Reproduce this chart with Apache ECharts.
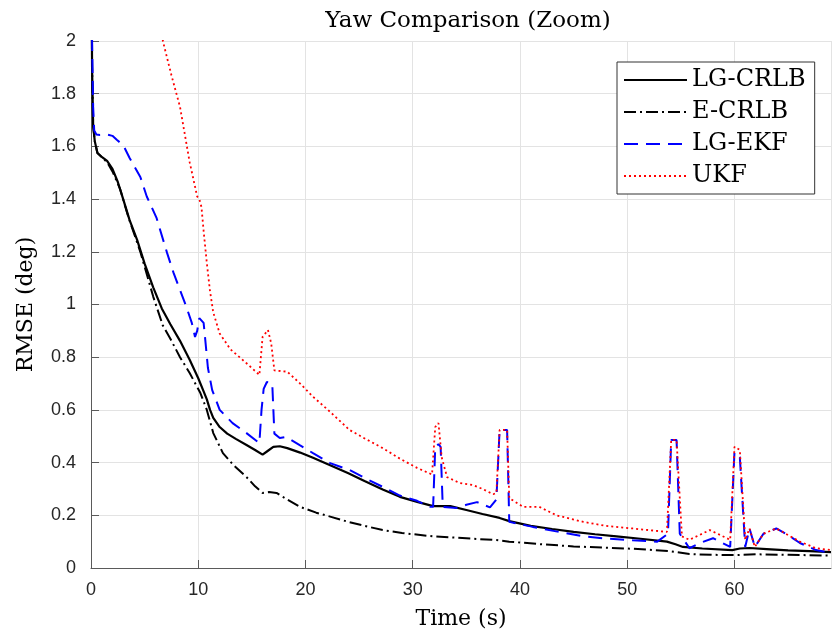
<!DOCTYPE html>
<html>
<head>
<meta charset="utf-8">
<script src="https://cdn.jsdelivr.net/npm/echarts@6/dist/echarts.min.js"></script>
<style>
html,body{margin:0;padding:0;background:#fff;}
#chart{width:832px;height:637px;}
</style>
</head>
<body>
<div id="chart"></div>
<script>
// ---- Data (time s, RMSE deg) ----
const seriesNames = ['LG-CRLB', 'E-CRLB', 'LG-EKF', 'UKF'];
const titleText = 'Yaw Comparison (Zoom)';
const xAxisName = 'Time (s)';
const yAxisName = 'RMSE (deg)';

const lgCrlb = [[0,2.6],[0.1,1.9],[0.2,1.68],[0.35,1.62],[0.6,1.575],[1.0,1.56],[1.5,1.545],[2.0,1.515],[2.5,1.465],[3.0,1.40],[3.6,1.32],[4.3,1.245],[5.0,1.155],[5.8,1.065],[6.6,0.985],[7.4,0.925],[8.3,0.862],[9.2,0.79],[10.0,0.72],[10.5,0.67],[10.8,0.64],[11.1,0.6],[11.4,0.57],[12.0,0.535],[12.7,0.51],[13.5,0.49],[14.5,0.467],[15.3,0.448],[16.0,0.43],[16.5,0.445],[17.0,0.46],[17.6,0.462],[18.3,0.455],[19.5,0.438],[20.7,0.418],[22.3,0.39],[24.0,0.36],[25.5,0.33],[27.2,0.298],[28.8,0.27],[30.5,0.25],[31.9,0.235],[33.5,0.235],[35,0.22],[36.5,0.205],[38.1,0.19],[39,0.178],[41,0.16],[43,0.148],[45,0.137],[47,0.128],[49,0.12],[51,0.112],[53.7,0.1],[54.5,0.09],[55.2,0.08],[57,0.074],[59.8,0.068],[60.5,0.074],[61.4,0.076],[63,0.072],[65,0.067],[67,0.064],[69,0.06]];

const eCrlb = [[0,2.6],[0.1,1.9],[0.2,1.68],[0.35,1.62],[0.6,1.575],[1.0,1.56],[1.5,1.54],[2.0,1.505],[2.7,1.44],[3.5,1.33],[4.6,1.2],[5.8,1.03],[6.7,0.92],[7.4,0.87],[8.3,0.8],[9.2,0.74],[10.2,0.664],[10.8,0.6],[11.4,0.512],[12.3,0.436],[13.3,0.39],[14.5,0.345],[15.3,0.31],[16.0,0.285],[16.6,0.288],[17.3,0.285],[18.3,0.26],[19.5,0.232],[21,0.21],[22.3,0.195],[24,0.175],[25.5,0.16],[27.2,0.144],[29,0.133],[31.9,0.12],[34,0.115],[37.8,0.106],[39,0.1],[42,0.09],[45,0.082],[48,0.077],[51,0.072],[54,0.064],[55.8,0.053],[58,0.05],[60,0.049],[62,0.052],[65,0.05],[69,0.047]];

const lgEkf = [[0,2.6],[0.1,2.0],[0.2,1.75],[0.3,1.66],[0.5,1.645],[0.84,1.643],[1.5,1.645],[2.0,1.64],[2.4,1.625],[3.0,1.605],[3.6,1.556],[4.6,1.484],[5.2,1.41],[6.1,1.33],[7.1,1.195],[7.7,1.12],[8.3,1.055],[8.9,0.99],[9.4,0.93],[9.7,0.877],[9.9,0.9],[10.1,0.948],[10.5,0.93],[10.6,0.89],[10.9,0.76],[11.3,0.675],[12.0,0.6],[13.2,0.55],[14.5,0.512],[15.7,0.474],[15.9,0.6],[16.1,0.68],[16.4,0.706],[16.9,0.7],[17.1,0.51],[17.6,0.493],[18.2,0.497],[19.5,0.465],[20.7,0.436],[22.3,0.398],[24.1,0.372],[25.6,0.34],[27.2,0.308],[28.8,0.275],[30.4,0.255],[31.6,0.232],[31.9,0.232],[32.1,0.46],[32.4,0.47],[32.6,0.46],[32.8,0.232],[34.1,0.228],[35,0.24],[36,0.25],[37.2,0.23],[37.8,0.26],[38.1,0.524],[38.8,0.524],[39.0,0.175],[41.2,0.156],[43.5,0.138],[45.9,0.12],[48,0.112],[50.5,0.105],[52.8,0.1],[53.8,0.13],[54.1,0.486],[54.6,0.486],[54.9,0.13],[55.8,0.075],[56.8,0.095],[58,0.113],[59.6,0.08],[60.0,0.44],[60.5,0.42],[61.0,0.08],[61.4,0.15],[61.9,0.08],[62.7,0.13],[63.9,0.15],[65,0.125],[66.1,0.095],[67.6,0.068],[69,0.057]];

const ukf = [[6.5,2.1],[6.7,2.0],[7.5,1.87],[8.3,1.75],[9.2,1.54],[9.9,1.41],[10.1,1.40],[10.3,1.37],[10.5,1.28],[10.8,1.157],[11.1,1.05],[11.4,0.97],[12,0.89],[13,0.83],[14.5,0.777],[15.7,0.733],[16.0,0.877],[16.5,0.903],[16.8,0.853],[17.1,0.75],[18.3,0.745],[19.5,0.70],[20.7,0.65],[22.1,0.60],[24.1,0.524],[25.6,0.49],[27.2,0.455],[28.8,0.415],[30.4,0.38],[31.8,0.355],[32.1,0.535],[32.4,0.55],[32.7,0.42],[33.2,0.345],[34.4,0.322],[35.6,0.315],[36.5,0.30],[37.5,0.28],[37.8,0.285],[38.1,0.524],[38.8,0.524],[39.0,0.265],[40.3,0.232],[41.8,0.232],[43.4,0.2],[45.9,0.175],[48,0.16],[50.5,0.15],[53.7,0.137],[54.1,0.486],[54.6,0.486],[55.1,0.12],[55.8,0.107],[57.7,0.144],[59.6,0.107],[60.0,0.46],[60.5,0.448],[61,0.107],[61.4,0.15],[61.9,0.08],[62.7,0.13],[63.9,0.15],[66.1,0.1],[67.6,0.075],[69,0.068]];

// ---- Chart ----
const chart = echarts.init(document.getElementById('chart'), null, {renderer: 'canvas'});
const serif = 'DejaVu Serif';
const sans = 'Liberation Sans';
const tickColor = '#262626';
const axisColor = '#5a5a5a';
const gridColor = '#e3e3e3';

function lineSeries(name, data, color, type, width, z) {
  return {
    name: name, type: 'line', data: data,
    showSymbol: false, symbol: 'none', symbolSize: 0, clip: true, z: z,
    lineStyle: {color: color, width: width, type: type},
    itemStyle: {color: color},
    emphasis: {disabled: true},
    animation: false
  };
}

chart.setOption({
  animation: false,
  backgroundColor: '#ffffff',
  title: {
    text: titleText,
    left: 463, top: 5, textAlign: 'center',
    textStyle: {fontFamily: serif, fontSize: 23, fontWeight: 'normal', color: '#000'}
  },
  grid: {left: 91, right: 1, top: 41, bottom: 69, containLabel: false},
  legend: {
    orient: 'vertical', left: 617, top: 62,
    padding: [6, 9, 6, 6],
    itemWidth: 63, itemHeight: 20, itemGap: 8,
    itemStyle: {opacity: 0},
    backgroundColor: '#ffffff', borderColor: '#333333', borderWidth: 1,
    textStyle: {fontFamily: serif, fontSize: 24, color: '#000'},
    data: seriesNames
  },
  xAxis: {
    type: 'value', min: 0, max: 69, interval: 10,
    name: xAxisName, nameLocation: 'middle', nameGap: 40,
    nameTextStyle: {fontFamily: serif, fontSize: 22, color: '#000'},
    axisLine: {show: true, onZero: false, lineStyle: {color: axisColor, width: 1}},
    axisTick: {show: true, inside: true, length: 8, lineStyle: {color: axisColor}},
    axisLabel: {
      margin: 13, fontFamily: sans, fontSize: 18, color: tickColor,
      showMaxLabel: false,
      formatter: function (v) { return (v % 10 === 0) ? String(v) : ''; }
    },
    splitLine: {show: true, lineStyle: {color: gridColor, width: 1}}
  },
  yAxis: {
    type: 'value', min: 0, max: 2, interval: 0.2,
    name: yAxisName, nameLocation: 'middle', nameGap: 54,
    nameTextStyle: {fontFamily: serif, fontSize: 22, color: '#000'},
    axisLine: {show: true, onZero: false, lineStyle: {color: axisColor, width: 1}},
    axisTick: {show: true, inside: true, length: 8, lineStyle: {color: axisColor}},
    axisLabel: {
      margin: 15, fontFamily: sans, fontSize: 18, color: tickColor,
      formatter: function (v) { return String(Math.round(v * 10) / 10); }
    },
    splitLine: {show: true, lineStyle: {color: gridColor, width: 1}}
  },
  series: [
    lineSeries(seriesNames[0], lgCrlb, '#000000', 'solid', 2.2, 2),
    lineSeries(seriesNames[1], eCrlb, '#000000', [12, 4, 2, 4], 2, 3),
    lineSeries(seriesNames[2], lgEkf, '#0000ff', [14, 8], 2, 4),
    lineSeries(seriesNames[3], ukf, '#ff0000', [2, 3], 1.8, 5)
  ]
});
</script>
</body>
</html>
